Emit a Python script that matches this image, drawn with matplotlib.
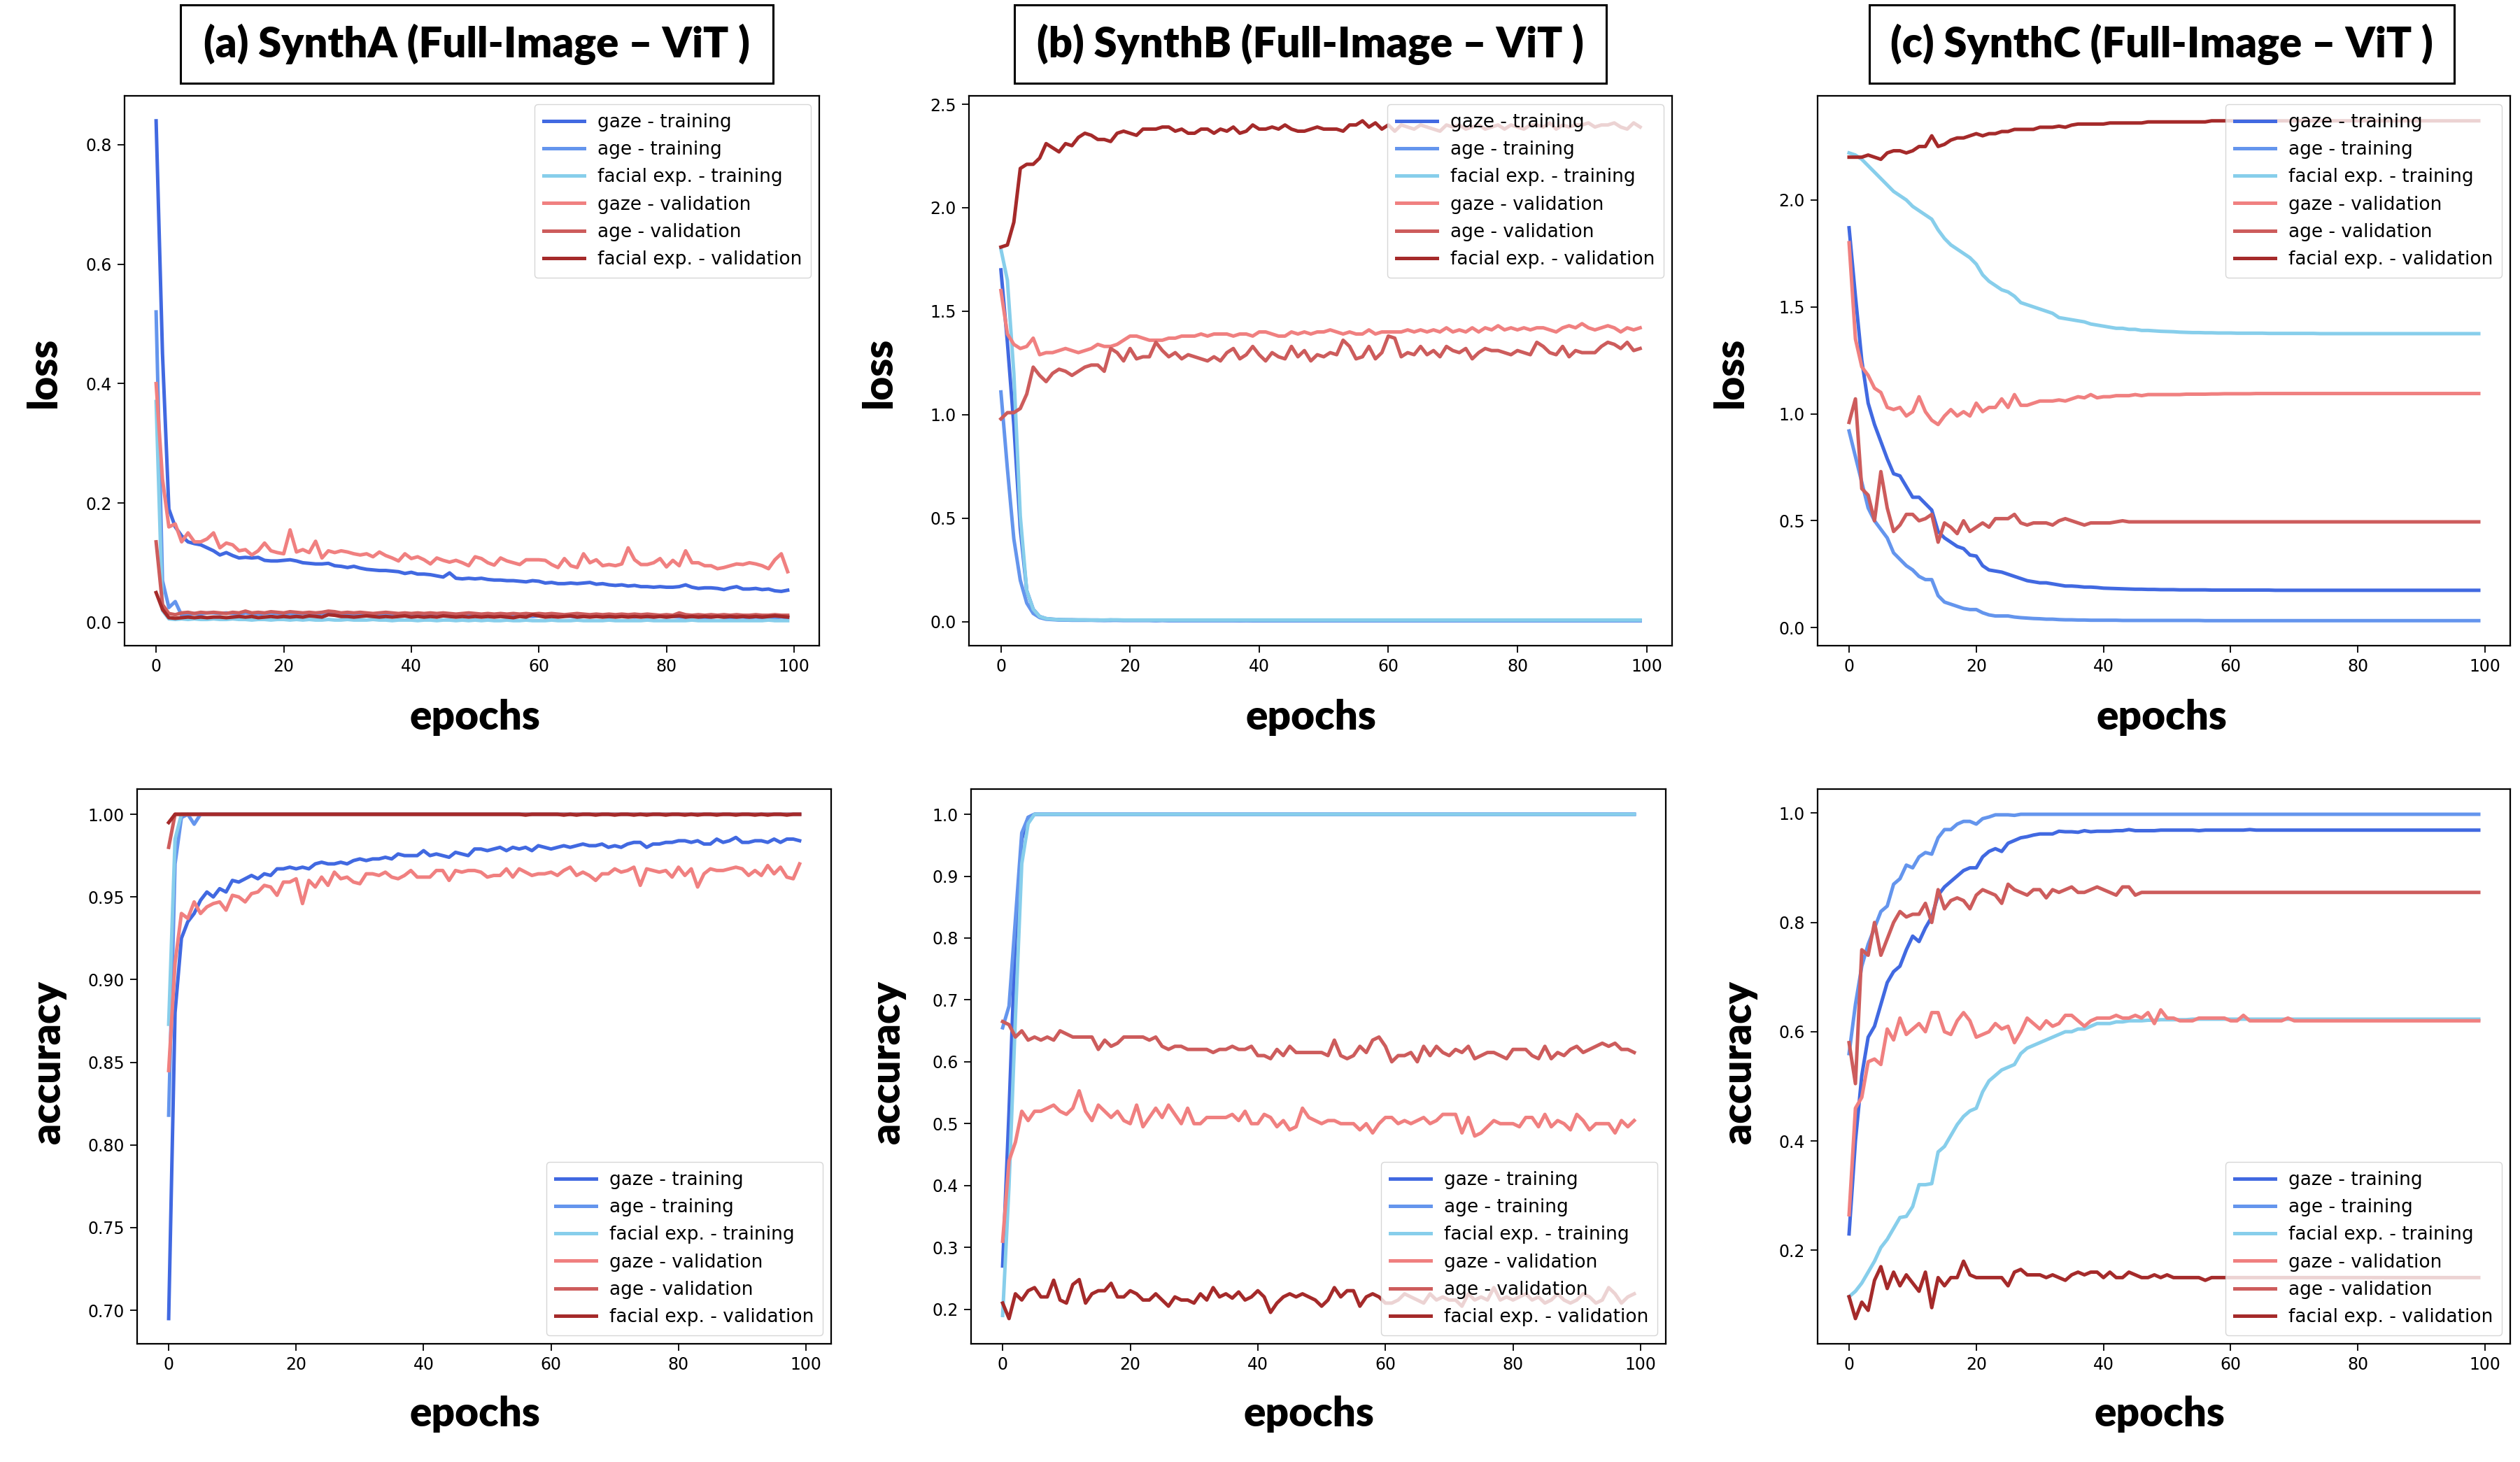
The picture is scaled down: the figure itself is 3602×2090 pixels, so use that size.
import matplotlib
matplotlib.use("Agg")
import matplotlib.pyplot as plt
from matplotlib.patches import Rectangle
import numpy as np

W, H = 3602, 2090

epochs = np.arange(100)

series_names = ["gaze - training", "age - training", "facial exp. - training",
                "gaze - validation", "age - validation", "facial exp. - validation"]
series_colors = ["#4169E1", "#6495ED", "#87CEEB", "#F08080", "#CD5C5C", "#A52A2A"]

titles = ["(a) SynthA (Full-Image \u2013 ViT )",
          "(b) SynthB (Full-Image \u2013 ViT )",
          "(c) SynthC (Full-Image \u2013 ViT )"]

# ---------------- SynthA loss ----------------
a_loss_gaze_tr = [
    0.84, 0.45, 0.19, 0.16, 0.145, 0.135, 0.132, 0.13, 0.125, 0.12,
    0.113, 0.117, 0.112, 0.108, 0.109, 0.108, 0.109, 0.104, 0.103, 0.103,
    0.104, 0.105, 0.103, 0.1, 0.099, 0.098, 0.098, 0.099, 0.095, 0.094,
    0.092, 0.094, 0.091, 0.089, 0.088, 0.087, 0.087, 0.086, 0.085, 0.082,
    0.084, 0.081, 0.081, 0.08, 0.078, 0.076, 0.083, 0.074, 0.073, 0.074,
    0.073, 0.074, 0.072, 0.071, 0.071, 0.07, 0.07, 0.069, 0.068, 0.07,
    0.069, 0.066, 0.067, 0.065, 0.065, 0.066, 0.065, 0.066, 0.067, 0.064,
    0.065, 0.063, 0.062, 0.063, 0.061, 0.062, 0.06, 0.06, 0.059, 0.06,
    0.059, 0.059, 0.06, 0.063, 0.059, 0.057, 0.058, 0.058, 0.057, 0.055,
    0.058, 0.06, 0.056, 0.056, 0.057, 0.055, 0.056, 0.053, 0.052, 0.054]
a_loss_age_tr = [
    0.52, 0.07, 0.025, 0.035, 0.012, 0.014, 0.015, 0.014, 0.016, 0.016,
    0.015, 0.016, 0.015, 0.014, 0.016, 0.015, 0.014, 0.015, 0.016, 0.015,
    0.014, 0.015, 0.014, 0.015, 0.014, 0.013, 0.015, 0.014, 0.013, 0.014,
    0.013, 0.014, 0.013, 0.013, 0.012, 0.014, 0.013, 0.012, 0.013, 0.012,
    0.013, 0.012, 0.012, 0.011, 0.012, 0.013, 0.012, 0.011, 0.012, 0.011,
    0.012, 0.011, 0.011, 0.012, 0.011, 0.01, 0.011, 0.012, 0.011, 0.01,
    0.011, 0.01, 0.011, 0.01, 0.011, 0.01, 0.009, 0.01, 0.011, 0.01,
    0.01, 0.009, 0.01, 0.011, 0.01, 0.009, 0.01, 0.01, 0.009, 0.01,
    0.009, 0.01, 0.009, 0.009, 0.01, 0.009, 0.008, 0.009, 0.01, 0.009,
    0.008, 0.009, 0.009, 0.008, 0.009, 0.008, 0.009, 0.008, 0.009, 0.008]
a_loss_face_tr = [
    0.37, 0.02, 0.006, 0.005, 0.006, 0.005, 0.006, 0.005, 0.005, 0.006,
    0.005, 0.005, 0.006, 0.005, 0.005, 0.004, 0.005, 0.005, 0.004, 0.005,
    0.005, 0.004, 0.005, 0.004, 0.005, 0.004, 0.004, 0.005, 0.004, 0.004,
    0.005, 0.004, 0.004, 0.004, 0.005, 0.004, 0.004, 0.003, 0.004, 0.004,
    0.004, 0.003, 0.004, 0.004, 0.003, 0.004, 0.004, 0.003, 0.004, 0.003,
    0.004, 0.003, 0.004, 0.003, 0.003, 0.004, 0.003, 0.003, 0.004, 0.003,
    0.003, 0.003, 0.004, 0.003, 0.003, 0.003, 0.004, 0.003, 0.003, 0.003,
    0.003, 0.004, 0.003, 0.003, 0.003, 0.003, 0.003, 0.004, 0.003, 0.003,
    0.003, 0.003, 0.003, 0.003, 0.004, 0.003, 0.003, 0.003, 0.003, 0.003,
    0.003, 0.003, 0.003, 0.003, 0.003, 0.003, 0.004, 0.003, 0.003, 0.003]
a_loss_gaze_val = [
    0.40, 0.24, 0.16, 0.165, 0.135, 0.15, 0.135, 0.135, 0.14, 0.15,
    0.125, 0.133, 0.13, 0.12, 0.122, 0.113, 0.12, 0.133, 0.12, 0.117,
    0.115, 0.155, 0.118, 0.122, 0.117, 0.136, 0.108, 0.12, 0.117, 0.12,
    0.118, 0.115, 0.113, 0.115, 0.11, 0.118, 0.112, 0.108, 0.103, 0.115,
    0.107, 0.11, 0.105, 0.098, 0.108, 0.104, 0.101, 0.104, 0.1, 0.095,
    0.11, 0.107, 0.1, 0.096, 0.108, 0.103, 0.1, 0.097, 0.105, 0.105,
    0.105, 0.104, 0.097, 0.092, 0.107, 0.095, 0.092, 0.115, 0.1, 0.105,
    0.095, 0.097, 0.095, 0.098, 0.125, 0.105, 0.097, 0.097, 0.1, 0.107,
    0.093, 0.104, 0.095, 0.12, 0.1, 0.1, 0.095, 0.095, 0.09, 0.092,
    0.095, 0.098, 0.097, 0.1, 0.098, 0.095, 0.09, 0.105, 0.115, 0.085]
a_loss_age_val = [
    0.135, 0.03, 0.015, 0.013, 0.016, 0.017, 0.015, 0.017, 0.016, 0.017,
    0.016, 0.015, 0.017, 0.016, 0.019, 0.016, 0.017, 0.016, 0.018, 0.017,
    0.016, 0.018, 0.017, 0.016, 0.017, 0.016, 0.017, 0.019, 0.018, 0.016,
    0.017, 0.016, 0.017, 0.016, 0.015, 0.016, 0.017, 0.016, 0.015, 0.016,
    0.015, 0.016, 0.015, 0.016, 0.015, 0.016, 0.015, 0.014, 0.015, 0.016,
    0.015, 0.014, 0.015, 0.014, 0.015, 0.014, 0.015, 0.014, 0.015, 0.014,
    0.015, 0.014, 0.015, 0.014, 0.013, 0.014, 0.015, 0.014, 0.013, 0.014,
    0.013, 0.014, 0.013, 0.014, 0.013, 0.014, 0.013, 0.014, 0.013, 0.012,
    0.013, 0.012, 0.016, 0.013, 0.012, 0.013, 0.012, 0.013, 0.012, 0.013,
    0.012, 0.013, 0.012, 0.012, 0.013, 0.012, 0.012, 0.013, 0.012, 0.012]
a_loss_face_val = [
    0.05, 0.022, 0.008, 0.007, 0.008, 0.009, 0.008, 0.009, 0.008, 0.009,
    0.009, 0.008, 0.009, 0.01, 0.009, 0.01, 0.008, 0.009, 0.01, 0.009,
    0.01, 0.009, 0.01, 0.009, 0.011, 0.01, 0.009, 0.013, 0.012, 0.01,
    0.01, 0.009, 0.01, 0.011, 0.01, 0.009, 0.01, 0.009, 0.01, 0.011,
    0.009, 0.01, 0.009, 0.01, 0.009, 0.011, 0.01, 0.009, 0.01, 0.009,
    0.01, 0.009, 0.01, 0.009, 0.01, 0.009, 0.008, 0.01, 0.009, 0.013,
    0.011, 0.009, 0.01, 0.009, 0.01, 0.011, 0.009, 0.01, 0.009, 0.01,
    0.009, 0.01, 0.009, 0.01, 0.009, 0.01, 0.009, 0.01, 0.009, 0.01,
    0.009, 0.01, 0.011, 0.009, 0.01, 0.009, 0.01, 0.009, 0.01, 0.009,
    0.01, 0.009, 0.01, 0.009, 0.01, 0.009, 0.01, 0.011, 0.01, 0.009]

# ---------------- SynthB loss ----------------
b_loss_gaze_tr = [
    1.70, 1.35, 0.95, 0.45, 0.15, 0.06, 0.025, 0.015, 0.012, 0.01,
    0.009, 0.009, 0.008, 0.008, 0.008, 0.008, 0.007, 0.008, 0.007, 0.007,
    0.007, 0.007, 0.007, 0.007, 0.006, 0.007, 0.006, 0.006, 0.006, 0.006,
    0.006, 0.006, 0.006, 0.006, 0.006, 0.006, 0.006, 0.005, 0.006, 0.005,
    0.005, 0.005, 0.005, 0.005, 0.005, 0.005, 0.005, 0.005, 0.005, 0.005,
    0.005, 0.005, 0.005, 0.005, 0.005, 0.005, 0.005, 0.005, 0.005, 0.005,
    0.005, 0.005, 0.005, 0.005, 0.005, 0.005, 0.005, 0.005, 0.005, 0.005,
    0.005, 0.005, 0.005, 0.005, 0.005, 0.005, 0.005, 0.005, 0.005, 0.005,
    0.005, 0.005, 0.005, 0.005, 0.005, 0.005, 0.005, 0.005, 0.005, 0.005,
    0.005, 0.005, 0.005, 0.005, 0.005, 0.005, 0.005, 0.005, 0.005, 0.005]
b_loss_age_tr = [
    1.11, 0.74, 0.40, 0.20, 0.09, 0.04, 0.02, 0.012, 0.01, 0.008,
    0.008, 0.007, 0.007, 0.007, 0.007, 0.006, 0.006, 0.006, 0.007, 0.006,
    0.006, 0.006, 0.006, 0.006, 0.005, 0.006, 0.005, 0.005, 0.005, 0.005,
    0.005, 0.005, 0.005, 0.005, 0.005, 0.005, 0.005, 0.005, 0.005, 0.005,
    0.005, 0.005, 0.005, 0.005, 0.005, 0.005, 0.005, 0.005, 0.005, 0.005,
    0.005, 0.005, 0.005, 0.005, 0.005, 0.005, 0.005, 0.005, 0.005, 0.005,
    0.005, 0.005, 0.005, 0.005, 0.005, 0.005, 0.005, 0.005, 0.005, 0.005,
    0.005, 0.005, 0.005, 0.005, 0.005, 0.005, 0.005, 0.005, 0.005, 0.005,
    0.005, 0.005, 0.005, 0.005, 0.005, 0.005, 0.005, 0.005, 0.005, 0.005,
    0.005, 0.005, 0.005, 0.005, 0.005, 0.005, 0.005, 0.005, 0.005, 0.005]
b_loss_face_tr = [
    1.80, 1.65, 1.20, 0.51, 0.15, 0.06, 0.025, 0.015, 0.012, 0.01,
    0.01, 0.009, 0.009, 0.009, 0.008, 0.008, 0.008, 0.009, 0.009, 0.008,
    0.008, 0.008, 0.008, 0.008, 0.008, 0.008, 0.008, 0.008, 0.008, 0.008,
    0.008, 0.008, 0.008, 0.008, 0.008, 0.008, 0.008, 0.008, 0.008, 0.008,
    0.008, 0.008, 0.008, 0.008, 0.008, 0.008, 0.008, 0.008, 0.008, 0.008,
    0.008, 0.008, 0.008, 0.008, 0.008, 0.008, 0.008, 0.008, 0.008, 0.008,
    0.008, 0.008, 0.008, 0.008, 0.008, 0.008, 0.008, 0.008, 0.008, 0.008,
    0.008, 0.008, 0.008, 0.008, 0.008, 0.008, 0.008, 0.008, 0.008, 0.008,
    0.008, 0.008, 0.008, 0.008, 0.008, 0.008, 0.008, 0.008, 0.008, 0.008,
    0.008, 0.008, 0.008, 0.008, 0.008, 0.008, 0.008, 0.008, 0.008, 0.008]
b_loss_gaze_val = [
    1.60, 1.39, 1.34, 1.32, 1.33, 1.37, 1.29, 1.30, 1.30, 1.31,
    1.32, 1.31, 1.30, 1.31, 1.32, 1.34, 1.33, 1.33, 1.34, 1.36,
    1.38, 1.38, 1.37, 1.36, 1.36, 1.36, 1.37, 1.37, 1.38, 1.38,
    1.38, 1.39, 1.38, 1.39, 1.39, 1.39, 1.38, 1.39, 1.39, 1.38,
    1.40, 1.40, 1.39, 1.38, 1.38, 1.40, 1.39, 1.40, 1.39, 1.40,
    1.40, 1.41, 1.40, 1.39, 1.40, 1.39, 1.39, 1.41, 1.39, 1.40,
    1.40, 1.40, 1.40, 1.41, 1.40, 1.41, 1.40, 1.41, 1.40, 1.42,
    1.40, 1.41, 1.40, 1.42, 1.40, 1.42, 1.41, 1.43, 1.41, 1.42,
    1.41, 1.42, 1.41, 1.42, 1.42, 1.41, 1.40, 1.42, 1.43, 1.42,
    1.44, 1.42, 1.41, 1.42, 1.43, 1.42, 1.40, 1.42, 1.41, 1.42]
b_loss_age_val = [
    0.98, 1.01, 1.01, 1.03, 1.10, 1.23, 1.19, 1.16, 1.20, 1.22,
    1.21, 1.19, 1.21, 1.23, 1.24, 1.24, 1.21, 1.32, 1.30, 1.26,
    1.32, 1.27, 1.28, 1.28, 1.35, 1.31, 1.28, 1.30, 1.27, 1.29,
    1.28, 1.27, 1.26, 1.28, 1.26, 1.30, 1.32, 1.27, 1.29, 1.33,
    1.29, 1.26, 1.30, 1.28, 1.27, 1.33, 1.28, 1.31, 1.26, 1.29,
    1.28, 1.30, 1.29, 1.36, 1.33, 1.27, 1.28, 1.33, 1.27, 1.30,
    1.38, 1.37, 1.28, 1.30, 1.29, 1.33, 1.29, 1.31, 1.28, 1.33,
    1.31, 1.30, 1.32, 1.27, 1.30, 1.32, 1.31, 1.31, 1.30, 1.29,
    1.31, 1.30, 1.29, 1.35, 1.33, 1.30, 1.29, 1.33, 1.28, 1.31,
    1.30, 1.30, 1.30, 1.33, 1.35, 1.34, 1.32, 1.35, 1.31, 1.32]
b_loss_face_val = [
    1.81, 1.82, 1.93, 2.19, 2.21, 2.21, 2.24, 2.31, 2.29, 2.27,
    2.31, 2.30, 2.34, 2.36, 2.35, 2.33, 2.33, 2.32, 2.36, 2.37,
    2.36, 2.35, 2.38, 2.38, 2.38, 2.39, 2.39, 2.37, 2.38, 2.36,
    2.36, 2.38, 2.38, 2.36, 2.38, 2.37, 2.39, 2.36, 2.37, 2.40,
    2.38, 2.38, 2.39, 2.38, 2.40, 2.38, 2.37, 2.37, 2.38, 2.39,
    2.38, 2.38, 2.38, 2.37, 2.40, 2.40, 2.42, 2.39, 2.41, 2.38,
    2.40, 2.37, 2.40, 2.39, 2.38, 2.40, 2.39, 2.38, 2.37, 2.40,
    2.39, 2.40, 2.38, 2.39, 2.40, 2.38, 2.39, 2.40, 2.38, 2.40,
    2.39, 2.38, 2.40, 2.40, 2.39, 2.41, 2.38, 2.40, 2.39, 2.40,
    2.40, 2.41, 2.39, 2.40, 2.40, 2.41, 2.39, 2.38, 2.41, 2.39]

# ---------------- SynthC loss ----------------
c_loss_gaze_tr = [
    1.87, 1.55, 1.25, 1.05, 0.95, 0.87, 0.79, 0.72, 0.71, 0.66,
    0.61, 0.61, 0.58, 0.55, 0.45, 0.42, 0.40, 0.38, 0.37, 0.34,
    0.335, 0.29, 0.27, 0.265, 0.26, 0.25, 0.24, 0.23, 0.22, 0.215,
    0.21, 0.21, 0.205, 0.20, 0.195, 0.195, 0.193, 0.19, 0.19, 0.188,
    0.185, 0.184, 0.183, 0.182, 0.181, 0.18, 0.18, 0.179, 0.179, 0.178,
    0.178, 0.178, 0.177, 0.177, 0.177, 0.177, 0.177, 0.176, 0.176, 0.176,
    0.176, 0.176, 0.176, 0.176, 0.176, 0.176, 0.176, 0.175, 0.175, 0.175,
    0.175, 0.175, 0.175, 0.175, 0.175, 0.175, 0.175, 0.175, 0.175, 0.175,
    0.175, 0.175, 0.175, 0.175, 0.175, 0.175, 0.175, 0.175, 0.175, 0.175,
    0.175, 0.175, 0.175, 0.175, 0.175, 0.175, 0.175, 0.175, 0.175, 0.175]
c_loss_age_tr = [
    0.92, 0.80, 0.68, 0.56, 0.50, 0.46, 0.42, 0.35, 0.32, 0.29,
    0.27, 0.24, 0.225, 0.225, 0.15, 0.12, 0.11, 0.10, 0.09, 0.085,
    0.085, 0.07, 0.06, 0.055, 0.055, 0.055, 0.05, 0.047, 0.045, 0.043,
    0.042, 0.04, 0.04, 0.038, 0.037, 0.037, 0.036, 0.036, 0.035, 0.035,
    0.035, 0.035, 0.035, 0.034, 0.034, 0.034, 0.034, 0.034, 0.034, 0.034,
    0.034, 0.034, 0.034, 0.034, 0.034, 0.034, 0.033, 0.033, 0.033, 0.033,
    0.033, 0.033, 0.033, 0.033, 0.033, 0.033, 0.033, 0.033, 0.033, 0.033,
    0.033, 0.033, 0.033, 0.033, 0.033, 0.033, 0.033, 0.033, 0.033, 0.033,
    0.033, 0.033, 0.033, 0.033, 0.033, 0.033, 0.033, 0.033, 0.033, 0.033,
    0.033, 0.033, 0.033, 0.033, 0.033, 0.033, 0.033, 0.033, 0.033, 0.033]
c_loss_face_tr = [
    2.22, 2.21, 2.19, 2.16, 2.13, 2.10, 2.07, 2.04, 2.02, 2.00,
    1.97, 1.95, 1.93, 1.91, 1.86, 1.82, 1.79, 1.77, 1.75, 1.73,
    1.70, 1.65, 1.62, 1.60, 1.58, 1.57, 1.55, 1.52, 1.51, 1.50,
    1.49, 1.48, 1.47, 1.45, 1.445, 1.44, 1.435, 1.43, 1.42, 1.415,
    1.41, 1.405, 1.40, 1.40, 1.395, 1.395, 1.39, 1.39, 1.388, 1.386,
    1.385, 1.384, 1.382, 1.381, 1.38, 1.38, 1.379, 1.379, 1.378, 1.378,
    1.378, 1.377, 1.377, 1.377, 1.377, 1.377, 1.376, 1.376, 1.376, 1.376,
    1.376, 1.376, 1.376, 1.376, 1.375, 1.375, 1.375, 1.375, 1.375, 1.375,
    1.375, 1.375, 1.375, 1.375, 1.375, 1.375, 1.375, 1.375, 1.375, 1.375,
    1.375, 1.375, 1.375, 1.375, 1.375, 1.375, 1.375, 1.375, 1.375, 1.375]
c_loss_gaze_val = [
    1.80, 1.35, 1.22, 1.18, 1.12, 1.10, 1.03, 1.02, 1.03, 0.99,
    1.01, 1.08, 1.01, 0.97, 0.95, 0.99, 1.02, 0.99, 1.01, 0.99,
    1.05, 1.01, 1.03, 1.03, 1.07, 1.03, 1.09, 1.04, 1.04, 1.05,
    1.06, 1.06, 1.06, 1.065, 1.06, 1.07, 1.08, 1.075, 1.09, 1.075,
    1.08, 1.08, 1.085, 1.085, 1.085, 1.09, 1.085, 1.09, 1.09, 1.09,
    1.09, 1.09, 1.09, 1.092, 1.092, 1.092, 1.092, 1.093, 1.093, 1.094,
    1.094, 1.094, 1.094, 1.094, 1.095, 1.095, 1.095, 1.095, 1.095, 1.095,
    1.095, 1.095, 1.095, 1.095, 1.095, 1.095, 1.095, 1.095, 1.095, 1.095,
    1.095, 1.095, 1.095, 1.095, 1.095, 1.095, 1.095, 1.095, 1.095, 1.095,
    1.095, 1.095, 1.095, 1.095, 1.095, 1.095, 1.095, 1.095, 1.095, 1.095]
c_loss_age_val = [
    0.96, 1.07, 0.65, 0.62, 0.50, 0.73, 0.56, 0.45, 0.48, 0.53,
    0.53, 0.50, 0.51, 0.53, 0.40, 0.49, 0.47, 0.44, 0.50, 0.45,
    0.47, 0.49, 0.47, 0.51, 0.51, 0.51, 0.53, 0.49, 0.48, 0.49,
    0.49, 0.49, 0.48, 0.50, 0.51, 0.50, 0.49, 0.48, 0.49, 0.49,
    0.49, 0.49, 0.495, 0.50, 0.495, 0.495, 0.495, 0.495, 0.495, 0.495,
    0.495, 0.495, 0.495, 0.495, 0.495, 0.495, 0.495, 0.495, 0.495, 0.495,
    0.495, 0.495, 0.495, 0.495, 0.495, 0.495, 0.495, 0.495, 0.495, 0.495,
    0.495, 0.495, 0.495, 0.495, 0.495, 0.495, 0.495, 0.495, 0.495, 0.495,
    0.495, 0.495, 0.495, 0.495, 0.495, 0.495, 0.495, 0.495, 0.495, 0.495,
    0.495, 0.495, 0.495, 0.495, 0.495, 0.495, 0.495, 0.495, 0.495, 0.495]
c_loss_face_val = [
    2.20, 2.20, 2.20, 2.21, 2.20, 2.19, 2.22, 2.23, 2.23, 2.22,
    2.23, 2.25, 2.25, 2.30, 2.25, 2.26, 2.28, 2.29, 2.29, 2.30,
    2.31, 2.30, 2.31, 2.31, 2.32, 2.32, 2.33, 2.33, 2.33, 2.33,
    2.34, 2.34, 2.34, 2.345, 2.34, 2.35, 2.355, 2.355, 2.355, 2.355,
    2.355, 2.36, 2.36, 2.36, 2.36, 2.36, 2.36, 2.365, 2.365, 2.365,
    2.365, 2.365, 2.365, 2.365, 2.365, 2.365, 2.365, 2.37, 2.37, 2.37,
    2.37, 2.37, 2.37, 2.37, 2.37, 2.37, 2.37, 2.37, 2.37, 2.37,
    2.37, 2.37, 2.37, 2.37, 2.37, 2.37, 2.37, 2.37, 2.37, 2.37,
    2.37, 2.37, 2.37, 2.37, 2.37, 2.37, 2.37, 2.37, 2.37, 2.37,
    2.37, 2.37, 2.37, 2.37, 2.37, 2.37, 2.37, 2.37, 2.37, 2.37]

# ---------------- SynthA accuracy ----------------
a_acc_gaze_tr = [
    0.695, 0.88, 0.925, 0.935, 0.94, 0.948, 0.953, 0.95, 0.955, 0.953,
    0.96, 0.959, 0.961, 0.963, 0.961, 0.964, 0.963, 0.967, 0.967, 0.968,
    0.967, 0.968, 0.967, 0.97, 0.971, 0.97, 0.97, 0.971, 0.97, 0.972,
    0.973, 0.972, 0.973, 0.973, 0.974, 0.973, 0.976, 0.975, 0.975, 0.975,
    0.978, 0.975, 0.976, 0.975, 0.974, 0.977, 0.976, 0.975, 0.979, 0.979,
    0.978, 0.979, 0.98, 0.978, 0.98, 0.979, 0.98, 0.978, 0.981, 0.98,
    0.979, 0.98, 0.981, 0.98, 0.981, 0.982, 0.981, 0.981, 0.982, 0.98,
    0.981, 0.98, 0.982, 0.983, 0.983, 0.98, 0.982, 0.982, 0.983, 0.983,
    0.984, 0.984, 0.983, 0.984, 0.982, 0.982, 0.985, 0.983, 0.984, 0.986,
    0.983, 0.983, 0.984, 0.984, 0.983, 0.985, 0.983, 0.985, 0.985, 0.984]
a_acc_age_tr = [
    0.818, 0.97, 0.998, 1.0, 0.994, 1.0, 1.0, 1.0, 1.0, 1.0,
    1.0, 1.0, 1.0, 1.0, 1.0, 1.0, 1.0, 1.0, 1.0, 1.0,
    1.0, 1.0, 1.0, 1.0, 1.0, 1.0, 1.0, 1.0, 1.0, 1.0,
    1.0, 1.0, 1.0, 1.0, 1.0, 1.0, 1.0, 1.0, 1.0, 1.0,
    1.0, 1.0, 1.0, 1.0, 1.0, 1.0, 1.0, 1.0, 1.0, 1.0,
    1.0, 1.0, 1.0, 1.0, 1.0, 1.0, 1.0, 1.0, 1.0, 1.0,
    1.0, 1.0, 1.0, 1.0, 1.0, 1.0, 1.0, 1.0, 1.0, 1.0,
    1.0, 1.0, 1.0, 1.0, 1.0, 1.0, 1.0, 1.0, 1.0, 1.0,
    1.0, 1.0, 1.0, 1.0, 1.0, 1.0, 1.0, 1.0, 1.0, 1.0,
    1.0, 1.0, 1.0, 1.0, 1.0, 1.0, 1.0, 1.0, 1.0, 1.0]
a_acc_face_tr = [
    0.873, 0.985, 1.0, 1.0, 1.0, 1.0, 1.0, 1.0, 1.0, 1.0,
    1.0, 1.0, 1.0, 1.0, 1.0, 1.0, 1.0, 1.0, 1.0, 1.0,
    1.0, 1.0, 1.0, 1.0, 1.0, 1.0, 1.0, 1.0, 1.0, 1.0,
    1.0, 1.0, 1.0, 1.0, 1.0, 1.0, 1.0, 1.0, 1.0, 1.0,
    1.0, 1.0, 1.0, 1.0, 1.0, 1.0, 1.0, 1.0, 1.0, 1.0,
    1.0, 1.0, 1.0, 1.0, 1.0, 1.0, 1.0, 1.0, 1.0, 1.0,
    1.0, 1.0, 1.0, 1.0, 1.0, 1.0, 1.0, 1.0, 1.0, 1.0,
    1.0, 1.0, 1.0, 1.0, 1.0, 1.0, 1.0, 1.0, 1.0, 1.0,
    1.0, 1.0, 1.0, 1.0, 1.0, 1.0, 1.0, 1.0, 1.0, 1.0,
    1.0, 1.0, 1.0, 1.0, 1.0, 1.0, 1.0, 1.0, 1.0, 1.0]
a_acc_gaze_val = [
    0.845, 0.91, 0.94, 0.937, 0.947, 0.94, 0.944, 0.946, 0.947, 0.942,
    0.951, 0.95, 0.947, 0.952, 0.953, 0.957, 0.956, 0.951, 0.959, 0.959,
    0.961, 0.946, 0.96, 0.956, 0.962, 0.957, 0.965, 0.961, 0.962, 0.959,
    0.958, 0.964, 0.964, 0.963, 0.965, 0.962, 0.961, 0.963, 0.966, 0.962,
    0.962, 0.962, 0.966, 0.966, 0.96, 0.966, 0.965, 0.966, 0.966, 0.965,
    0.962, 0.963, 0.963, 0.967, 0.962, 0.967, 0.965, 0.963, 0.964, 0.964,
    0.965, 0.963, 0.966, 0.968, 0.963, 0.965, 0.963, 0.96, 0.964, 0.964,
    0.967, 0.965, 0.966, 0.968, 0.957, 0.967, 0.966, 0.965, 0.966, 0.962,
    0.968, 0.963, 0.967, 0.956, 0.964, 0.967, 0.966, 0.966, 0.967, 0.968,
    0.967, 0.963, 0.966, 0.963, 0.969, 0.964, 0.968, 0.962, 0.961, 0.97]
a_acc_age_val = [
    0.98, 1.0, 1.0, 1.0, 1.0, 1.0, 1.0, 1.0, 1.0, 1.0,
    1.0, 1.0, 1.0, 1.0, 1.0, 1.0, 1.0, 1.0, 1.0, 1.0,
    1.0, 1.0, 1.0, 1.0, 1.0, 1.0, 1.0, 1.0, 1.0, 1.0,
    1.0, 1.0, 1.0, 1.0, 1.0, 1.0, 1.0, 1.0, 1.0, 1.0,
    1.0, 1.0, 1.0, 1.0, 1.0, 1.0, 1.0, 1.0, 1.0, 1.0,
    1.0, 1.0, 1.0, 1.0, 1.0, 1.0, 1.0, 1.0, 1.0, 1.0,
    1.0, 1.0, 1.0, 1.0, 1.0, 1.0, 1.0, 1.0, 1.0, 1.0,
    1.0, 1.0, 1.0, 1.0, 1.0, 1.0, 1.0, 1.0, 1.0, 1.0,
    1.0, 1.0, 1.0, 1.0, 1.0, 1.0, 1.0, 1.0, 1.0, 1.0,
    1.0, 1.0, 1.0, 1.0, 1.0, 1.0, 1.0, 1.0, 1.0, 1.0]
a_acc_face_val = [
    0.995, 1.0, 1.0, 1.0, 1.0, 1.0, 1.0, 1.0, 1.0, 1.0,
    1.0, 1.0, 1.0, 1.0, 1.0, 1.0, 1.0, 1.0, 1.0, 1.0,
    1.0, 1.0, 1.0, 1.0, 1.0, 1.0, 1.0, 1.0, 1.0, 1.0,
    1.0, 1.0, 1.0, 1.0, 1.0, 1.0, 1.0, 1.0, 1.0, 1.0,
    1.0, 1.0, 1.0, 1.0, 1.0, 1.0, 1.0, 1.0, 1.0, 1.0,
    1.0, 1.0, 1.0, 1.0, 1.0, 1.0, 0.9995, 1.0, 1.0, 1.0,
    1.0, 1.0, 0.9995, 1.0, 0.9995, 1.0, 1.0, 0.9995, 1.0, 1.0,
    0.9995, 1.0, 1.0, 0.9995, 1.0, 0.9995, 1.0, 1.0, 0.9995, 1.0,
    1.0, 0.9995, 1.0, 0.9995, 1.0, 1.0, 0.9995, 1.0, 1.0, 0.9995,
    1.0, 1.0, 0.9995, 1.0, 0.9995, 1.0, 1.0, 0.9995, 1.0, 1.0]

# ---------------- SynthB accuracy ----------------
b_acc_gaze_tr = [
    0.27, 0.52, 0.80, 0.96, 0.995, 1.0, 1.0, 1.0, 1.0, 1.0,
    1.0, 1.0, 1.0, 1.0, 1.0, 1.0, 1.0, 1.0, 1.0, 1.0,
    1.0, 1.0, 1.0, 1.0, 1.0, 1.0, 1.0, 1.0, 1.0, 1.0,
    1.0, 1.0, 1.0, 1.0, 1.0, 1.0, 1.0, 1.0, 1.0, 1.0,
    1.0, 1.0, 1.0, 1.0, 1.0, 1.0, 1.0, 1.0, 1.0, 1.0,
    1.0, 1.0, 1.0, 1.0, 1.0, 1.0, 1.0, 1.0, 1.0, 1.0,
    1.0, 1.0, 1.0, 1.0, 1.0, 1.0, 1.0, 1.0, 1.0, 1.0,
    1.0, 1.0, 1.0, 1.0, 1.0, 1.0, 1.0, 1.0, 1.0, 1.0,
    1.0, 1.0, 1.0, 1.0, 1.0, 1.0, 1.0, 1.0, 1.0, 1.0,
    1.0, 1.0, 1.0, 1.0, 1.0, 1.0, 1.0, 1.0, 1.0, 1.0]
b_acc_age_tr = [
    0.655, 0.69, 0.83, 0.97, 0.995, 1.0, 1.0, 1.0, 1.0, 1.0,
    1.0, 1.0, 1.0, 1.0, 1.0, 1.0, 1.0, 1.0, 1.0, 1.0,
    1.0, 1.0, 1.0, 1.0, 1.0, 1.0, 1.0, 1.0, 1.0, 1.0,
    1.0, 1.0, 1.0, 1.0, 1.0, 1.0, 1.0, 1.0, 1.0, 1.0,
    1.0, 1.0, 1.0, 1.0, 1.0, 1.0, 1.0, 1.0, 1.0, 1.0,
    1.0, 1.0, 1.0, 1.0, 1.0, 1.0, 1.0, 1.0, 1.0, 1.0,
    1.0, 1.0, 1.0, 1.0, 1.0, 1.0, 1.0, 1.0, 1.0, 1.0,
    1.0, 1.0, 1.0, 1.0, 1.0, 1.0, 1.0, 1.0, 1.0, 1.0,
    1.0, 1.0, 1.0, 1.0, 1.0, 1.0, 1.0, 1.0, 1.0, 1.0,
    1.0, 1.0, 1.0, 1.0, 1.0, 1.0, 1.0, 1.0, 1.0, 1.0]
b_acc_face_tr = [
    0.19, 0.40, 0.67, 0.92, 0.985, 1.0, 1.0, 1.0, 1.0, 1.0,
    1.0, 1.0, 1.0, 1.0, 1.0, 1.0, 1.0, 1.0, 1.0, 1.0,
    1.0, 1.0, 1.0, 1.0, 1.0, 1.0, 1.0, 1.0, 1.0, 1.0,
    1.0, 1.0, 1.0, 1.0, 1.0, 1.0, 1.0, 1.0, 1.0, 1.0,
    1.0, 1.0, 1.0, 1.0, 1.0, 1.0, 1.0, 1.0, 1.0, 1.0,
    1.0, 1.0, 1.0, 1.0, 1.0, 1.0, 1.0, 1.0, 1.0, 1.0,
    1.0, 1.0, 1.0, 1.0, 1.0, 1.0, 1.0, 1.0, 1.0, 1.0,
    1.0, 1.0, 1.0, 1.0, 1.0, 1.0, 1.0, 1.0, 1.0, 1.0,
    1.0, 1.0, 1.0, 1.0, 1.0, 1.0, 1.0, 1.0, 1.0, 1.0,
    1.0, 1.0, 1.0, 1.0, 1.0, 1.0, 1.0, 1.0, 1.0, 1.0]
b_acc_gaze_val = [
    0.31, 0.44, 0.47, 0.52, 0.505, 0.52, 0.52, 0.525, 0.53, 0.52,
    0.515, 0.525, 0.553, 0.52, 0.505, 0.53, 0.52, 0.51, 0.52, 0.505,
    0.5, 0.53, 0.495, 0.51, 0.525, 0.51, 0.53, 0.515, 0.5, 0.525,
    0.5, 0.5, 0.51, 0.51, 0.51, 0.51, 0.515, 0.505, 0.52, 0.5,
    0.5, 0.515, 0.51, 0.495, 0.505, 0.49, 0.495, 0.525, 0.51, 0.505,
    0.5, 0.505, 0.505, 0.5, 0.5, 0.5, 0.49, 0.5, 0.485, 0.5,
    0.51, 0.51, 0.5, 0.505, 0.5, 0.505, 0.51, 0.5, 0.505, 0.515,
    0.515, 0.515, 0.485, 0.51, 0.48, 0.485, 0.495, 0.505, 0.5, 0.5,
    0.5, 0.495, 0.51, 0.51, 0.495, 0.515, 0.495, 0.505, 0.5, 0.49,
    0.515, 0.505, 0.49, 0.5, 0.5, 0.5, 0.485, 0.505, 0.495, 0.505]
b_acc_age_val = [
    0.665, 0.66, 0.64, 0.65, 0.635, 0.64, 0.635, 0.64, 0.635, 0.65,
    0.645, 0.64, 0.64, 0.64, 0.64, 0.62, 0.635, 0.625, 0.63, 0.64,
    0.64, 0.64, 0.64, 0.635, 0.64, 0.625, 0.62, 0.625, 0.625, 0.62,
    0.62, 0.62, 0.62, 0.615, 0.62, 0.62, 0.625, 0.62, 0.62, 0.625,
    0.61, 0.61, 0.605, 0.62, 0.61, 0.625, 0.615, 0.615, 0.615, 0.615,
    0.615, 0.61, 0.635, 0.61, 0.605, 0.61, 0.625, 0.615, 0.635, 0.64,
    0.625, 0.6, 0.61, 0.61, 0.615, 0.6, 0.625, 0.61, 0.625, 0.615,
    0.61, 0.62, 0.615, 0.625, 0.605, 0.61, 0.615, 0.615, 0.61, 0.605,
    0.62, 0.62, 0.62, 0.61, 0.605, 0.625, 0.605, 0.615, 0.61, 0.62,
    0.625, 0.615, 0.62, 0.625, 0.63, 0.625, 0.63, 0.62, 0.62, 0.615]
b_acc_face_val = [
    0.21, 0.185, 0.225, 0.215, 0.23, 0.235, 0.22, 0.22, 0.247, 0.215,
    0.21, 0.24, 0.248, 0.21, 0.225, 0.23, 0.23, 0.242, 0.22, 0.22,
    0.23, 0.225, 0.215, 0.215, 0.225, 0.215, 0.205, 0.22, 0.215, 0.215,
    0.21, 0.225, 0.215, 0.235, 0.22, 0.225, 0.218, 0.228, 0.215, 0.22,
    0.23, 0.22, 0.195, 0.21, 0.22, 0.225, 0.22, 0.225, 0.22, 0.215,
    0.205, 0.215, 0.235, 0.22, 0.23, 0.23, 0.205, 0.22, 0.225, 0.22,
    0.21, 0.21, 0.215, 0.225, 0.22, 0.215, 0.21, 0.225, 0.215, 0.22,
    0.215, 0.215, 0.205, 0.225, 0.215, 0.22, 0.215, 0.235, 0.215, 0.22,
    0.215, 0.22, 0.225, 0.215, 0.22, 0.21, 0.215, 0.225, 0.215, 0.21,
    0.215, 0.225, 0.22, 0.21, 0.215, 0.235, 0.225, 0.21, 0.22, 0.225]

# ---------------- SynthC accuracy ----------------
c_acc_gaze_tr = [
    0.23, 0.40, 0.52, 0.59, 0.61, 0.65, 0.69, 0.71, 0.72, 0.75,
    0.775, 0.765, 0.79, 0.81, 0.85, 0.865, 0.875, 0.885, 0.895, 0.90,
    0.90, 0.92, 0.93, 0.935, 0.93, 0.945, 0.95, 0.955, 0.957, 0.96,
    0.962, 0.962, 0.962, 0.967, 0.966, 0.966, 0.965, 0.968, 0.966, 0.967,
    0.967, 0.967, 0.968, 0.968, 0.97, 0.968, 0.968, 0.968, 0.968, 0.969,
    0.969, 0.969, 0.969, 0.969, 0.969, 0.968, 0.969, 0.969, 0.969, 0.969,
    0.969, 0.969, 0.969, 0.97, 0.969, 0.969, 0.969, 0.969, 0.969, 0.969,
    0.969, 0.969, 0.969, 0.969, 0.969, 0.969, 0.969, 0.969, 0.969, 0.969,
    0.969, 0.969, 0.969, 0.969, 0.969, 0.969, 0.969, 0.969, 0.969, 0.969,
    0.969, 0.969, 0.969, 0.969, 0.969, 0.969, 0.969, 0.969, 0.969, 0.969]
c_acc_age_tr = [
    0.56, 0.65, 0.72, 0.76, 0.79, 0.82, 0.83, 0.87, 0.88, 0.905,
    0.90, 0.92, 0.928, 0.925, 0.955, 0.97, 0.97, 0.98, 0.985, 0.985,
    0.98, 0.99, 0.993, 0.997, 0.997, 0.997, 0.996, 0.998, 0.998, 0.998,
    0.998, 0.998, 0.998, 0.998, 0.998, 0.998, 0.998, 0.998, 0.998, 0.998,
    0.998, 0.998, 0.998, 0.998, 0.998, 0.998, 0.998, 0.998, 0.998, 0.998,
    0.998, 0.998, 0.998, 0.998, 0.998, 0.998, 0.998, 0.998, 0.998, 0.998,
    0.998, 0.998, 0.998, 0.998, 0.998, 0.998, 0.998, 0.998, 0.998, 0.998,
    0.998, 0.998, 0.998, 0.998, 0.998, 0.998, 0.998, 0.998, 0.998, 0.998,
    0.998, 0.998, 0.998, 0.998, 0.998, 0.998, 0.998, 0.998, 0.998, 0.998,
    0.998, 0.998, 0.998, 0.998, 0.998, 0.998, 0.998, 0.998, 0.998, 0.998]
c_acc_face_tr = [
    0.115, 0.125, 0.14, 0.16, 0.18, 0.205, 0.22, 0.24, 0.26, 0.262,
    0.28, 0.32, 0.32, 0.322, 0.38, 0.39, 0.41, 0.43, 0.445, 0.455,
    0.46, 0.49, 0.51, 0.52, 0.53, 0.535, 0.54, 0.56, 0.57, 0.575,
    0.58, 0.585, 0.59, 0.595, 0.60, 0.60, 0.605, 0.605, 0.61, 0.615,
    0.615, 0.615, 0.618, 0.618, 0.62, 0.62, 0.62, 0.621, 0.621, 0.622,
    0.622, 0.622, 0.622, 0.622, 0.623, 0.623, 0.623, 0.623, 0.623, 0.623,
    0.623, 0.623, 0.623, 0.623, 0.623, 0.623, 0.623, 0.623, 0.623, 0.623,
    0.623, 0.623, 0.623, 0.623, 0.623, 0.623, 0.623, 0.623, 0.623, 0.623,
    0.623, 0.623, 0.623, 0.623, 0.623, 0.623, 0.623, 0.623, 0.623, 0.623,
    0.623, 0.623, 0.623, 0.623, 0.623, 0.623, 0.623, 0.623, 0.623, 0.623]
c_acc_gaze_val = [
    0.265, 0.46, 0.48, 0.545, 0.55, 0.54, 0.605, 0.585, 0.625, 0.595,
    0.605, 0.615, 0.60, 0.635, 0.635, 0.60, 0.595, 0.62, 0.635, 0.62,
    0.59, 0.595, 0.60, 0.615, 0.605, 0.61, 0.58, 0.60, 0.625, 0.615,
    0.605, 0.62, 0.61, 0.615, 0.63, 0.63, 0.62, 0.61, 0.62, 0.625,
    0.625, 0.625, 0.63, 0.625, 0.625, 0.63, 0.625, 0.635, 0.615, 0.64,
    0.625, 0.625, 0.62, 0.62, 0.62, 0.625, 0.625, 0.625, 0.625, 0.625,
    0.62, 0.62, 0.63, 0.62, 0.62, 0.62, 0.62, 0.62, 0.62, 0.625,
    0.62, 0.62, 0.62, 0.62, 0.62, 0.62, 0.62, 0.62, 0.62, 0.62,
    0.62, 0.62, 0.62, 0.62, 0.62, 0.62, 0.62, 0.62, 0.62, 0.62,
    0.62, 0.62, 0.62, 0.62, 0.62, 0.62, 0.62, 0.62, 0.62, 0.62]
c_acc_age_val = [
    0.58, 0.505, 0.75, 0.74, 0.80, 0.74, 0.77, 0.80, 0.82, 0.81,
    0.815, 0.815, 0.835, 0.80, 0.86, 0.825, 0.84, 0.845, 0.84, 0.825,
    0.85, 0.86, 0.855, 0.85, 0.835, 0.87, 0.86, 0.855, 0.85, 0.86,
    0.86, 0.845, 0.86, 0.855, 0.86, 0.865, 0.855, 0.855, 0.86, 0.865,
    0.86, 0.855, 0.85, 0.865, 0.865, 0.85, 0.855, 0.855, 0.855, 0.855,
    0.855, 0.855, 0.855, 0.855, 0.855, 0.855, 0.855, 0.855, 0.855, 0.855,
    0.855, 0.855, 0.855, 0.855, 0.855, 0.855, 0.855, 0.855, 0.855, 0.855,
    0.855, 0.855, 0.855, 0.855, 0.855, 0.855, 0.855, 0.855, 0.855, 0.855,
    0.855, 0.855, 0.855, 0.855, 0.855, 0.855, 0.855, 0.855, 0.855, 0.855,
    0.855, 0.855, 0.855, 0.855, 0.855, 0.855, 0.855, 0.855, 0.855, 0.855]
c_acc_face_val = [
    0.115, 0.075, 0.105, 0.09, 0.145, 0.17, 0.13, 0.16, 0.135, 0.155,
    0.14, 0.125, 0.16, 0.095, 0.15, 0.135, 0.15, 0.15, 0.18, 0.155,
    0.15, 0.15, 0.15, 0.15, 0.15, 0.135, 0.16, 0.165, 0.155, 0.155,
    0.155, 0.15, 0.155, 0.15, 0.145, 0.155, 0.16, 0.155, 0.16, 0.16,
    0.15, 0.16, 0.15, 0.15, 0.16, 0.155, 0.15, 0.15, 0.155, 0.15,
    0.155, 0.15, 0.15, 0.15, 0.15, 0.15, 0.145, 0.15, 0.15, 0.15,
    0.15, 0.15, 0.15, 0.15, 0.15, 0.15, 0.15, 0.15, 0.15, 0.15,
    0.15, 0.15, 0.15, 0.15, 0.15, 0.15, 0.15, 0.15, 0.15, 0.15,
    0.15, 0.15, 0.15, 0.15, 0.15, 0.15, 0.15, 0.15, 0.15, 0.15,
    0.15, 0.15, 0.15, 0.15, 0.15, 0.15, 0.15, 0.15, 0.15, 0.15]

loss_panels = [
    [a_loss_gaze_tr, a_loss_age_tr, a_loss_face_tr, a_loss_gaze_val, a_loss_age_val, a_loss_face_val],
    [b_loss_gaze_tr, b_loss_age_tr, b_loss_face_tr, b_loss_gaze_val, b_loss_age_val, b_loss_face_val],
    [c_loss_gaze_tr, c_loss_age_tr, c_loss_face_tr, c_loss_gaze_val, c_loss_age_val, c_loss_face_val],
]
acc_panels = [
    [a_acc_gaze_tr, a_acc_age_tr, a_acc_face_tr, a_acc_gaze_val, a_acc_age_val, a_acc_face_val],
    [b_acc_gaze_tr, b_acc_age_tr, b_acc_face_tr, b_acc_gaze_val, b_acc_age_val, b_acc_face_val],
    [c_acc_gaze_tr, c_acc_age_tr, c_acc_face_tr, c_acc_gaze_val, c_acc_age_val, c_acc_face_val],
]

# pixel boxes (left, top, right, bottom) measured on the 3602x2090 canvas
loss_boxes = [(178, 137, 1171, 923), (1385, 137, 2390, 923), (2598, 137, 3588, 923)]
acc_boxes = [(196, 1128, 1188, 1921), (1388, 1128, 2381, 1921), (2598, 1128, 3588, 1921)]
title_boxes = [(258, 7, 1105, 119), (1450, 7, 2296, 119), (2672, 7, 3508, 119)]
loss_label_xy = [(62, 532), (1256, 532), (2473, 532)]
acc_label_xy = [(69, 1519), (1268, 1519), (2485, 1519)]
loss_epochs_xy = [(679, 1025), (1874, 1025), (3090, 1025)]
acc_epochs_xy = [(679, 2021), (1871, 2021), (3087, 2021)]

LABEL_FONT = "Lato"


def fx(px):
    return px / W


def fy(py):
    return 1 - py / H


def add_axes(fig, box):
    l, t, r, b = box
    return fig.add_axes([fx(l), fy(b), (r - l) / W, (b - t) / H])


def draw_panel(ax, data, legend_loc):
    for values, name, color in zip(data, series_names, series_colors):
        ax.plot(epochs, values, color=color, lw=3.6, label=name)
    ax.set_xticks([0, 20, 40, 60, 80, 100])
    ax.tick_params(labelsize=17, length=7, width=1.3, pad=6)
    for sp in ax.spines.values():
        sp.set_linewidth(1.6)
    ax.legend(loc=legend_loc, fontsize=19, handlelength=2.2, handletextpad=0.7,
              labelspacing=0.5, borderpad=0.5, borderaxespad=0.45)


fig = plt.figure(figsize=(W / 100, H / 100), dpi=100)

for i in range(3):
    ax = add_axes(fig, loss_boxes[i])
    draw_panel(ax, loss_panels[i], "upper right")
    ax2 = add_axes(fig, acc_boxes[i])
    draw_panel(ax2, acc_panels[i], "lower right")

    l, t, r, b = title_boxes[i]
    fig.patches.append(Rectangle((fx(l), fy(b)), (r - l) / W, (b - t) / H,
                                 transform=fig.transFigure, fill=False,
                                 edgecolor="black", linewidth=2.2))
    fig.text(fx((l + r) / 2), fy((t + b) / 2), titles[i], ha="center", va="center",
             fontsize=43, fontweight="heavy", family=LABEL_FONT)

    x, y = loss_label_xy[i]
    fig.text(fx(x), fy(y), "loss", rotation=90, ha="center", va="center",
             fontsize=42, fontweight="heavy", family=LABEL_FONT)
    x, y = acc_label_xy[i]
    fig.text(fx(x), fy(y), "accuracy", rotation=90, ha="center", va="center",
             fontsize=42, fontweight="heavy", family=LABEL_FONT)
    for x, y in (loss_epochs_xy[i], acc_epochs_xy[i]):
        fig.text(fx(x), fy(y), "epochs", ha="center", va="center",
                 fontsize=42, fontweight="heavy", family=LABEL_FONT)

fig.savefig("out.png", dpi=100)
